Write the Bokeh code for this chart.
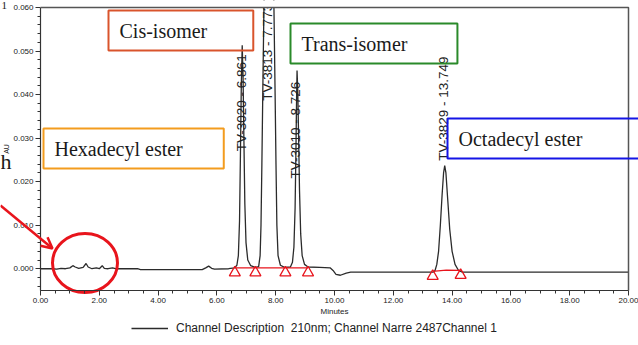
import math

from bokeh.core.properties import value
from bokeh.embed import file_html
from bokeh.models import (Arrow, BoxAnnotation, Label, Legend, LegendItem,
                          NumeralTickFormatter, OpenHead, SingleIntervalTicker)
from bokeh.plotting import figure
from bokeh.resources import INLINE

# Chromatogram trace: retention time (minutes) and absorbance (AU)
time_min = [
    0.00, 0.40, 0.55, 0.70, 0.85, 1.00, 1.10, 1.18, 1.30, 1.45, 1.55, 1.62,
    1.75, 1.90, 2.00, 2.10, 2.17, 2.30, 2.45, 2.55, 3.30, 3.40, 5.50, 5.62,
    5.72, 5.82, 5.92, 6.40, 6.60, 6.68, 6.73, 6.77, 6.80, 6.83, 6.861, 6.89,
    6.92, 6.95, 6.99, 7.05, 7.15, 7.30, 7.42, 7.47, 7.50, 7.53, 7.56, 7.60,
    7.65, 7.773, 7.90, 7.94, 7.98, 8.01, 8.04, 8.08, 8.16, 8.30, 8.50, 8.57,
    8.62, 8.66, 8.69, 8.71, 8.726, 8.75, 8.78, 8.81, 8.85, 8.90, 8.98, 9.10,
    9.50, 9.85, 9.95, 10.05, 10.20, 10.40, 10.55, 13.35, 13.42, 13.48, 13.54,
    13.60, 13.66, 13.71, 13.749, 13.79, 13.85, 13.92, 14.00, 14.10, 14.22,
    14.35, 20.00,
]
absorbance = [
    0.0000, 0.0000, -0.0001, 0.0001, 0.0000, 0.0002, 0.0007, 0.0004, 0.0001,
    0.0003, 0.0012, 0.0004, 0.0000, 0.0002, 0.0000, 0.0007, 0.0001, 0.0000,
    0.0002, 0.0000, 0.0000, -0.0002, -0.0002, 0.0002, 0.0006, 0.0001,
    -0.0001, 0.0000, 0.0002, 0.0008, 0.0030, 0.0110, 0.0260, 0.0420, 0.0513,
    0.0440, 0.0290, 0.0150, 0.0060, 0.0020, 0.0007, 0.0003, 0.0005, 0.0030,
    0.0100, 0.0240, 0.0400, 0.0600, 0.0800, 0.0950, 0.0800, 0.0600, 0.0400,
    0.0240, 0.0100, 0.0030, 0.0008, 0.0003, 0.0004, 0.0015, 0.0050, 0.0140,
    0.0280, 0.0390, 0.0455, 0.0410, 0.0300, 0.0180, 0.0080, 0.0030, 0.0010,
    0.0004, 0.0003, 0.0002, -0.0004, -0.0013, -0.0015, -0.0010, -0.0008,
    -0.0008, -0.0004, 0.0010, 0.0040, 0.0100, 0.0170, 0.0220, 0.0237, 0.0220,
    0.0160, 0.0090, 0.0040, 0.0010, -0.0004, -0.0008, -0.0008,
]

# Integrated peaks
peak_ids = ["TV-3020", "TV-3813", "TV-3010", "TV-3829"]
peak_times = [6.861, 7.773, 8.726, 13.749]

# Integration events (peak start / end) and the drawn baselines
event_times = [6.61, 7.31, 8.33, 9.10, 13.34, 14.29]
event_levels = [0.0002, 0.0002, 0.0002, 0.0002, -0.0006, -0.0004]
baseline_a_t = [6.61, 7.31, 8.33, 9.10]
baseline_a_y = [0.0002, 0.0002, 0.0002, 0.0002]
baseline_b_t = [13.34, 13.80, 14.29]
baseline_b_y = [-0.0006, -0.0003, -0.0004]

# Axis extents and ticks
T_MIN, T_MAX = 0.0, 20.0
A_MIN, A_MAX = -0.005, 0.060
x_major = 2.0
y_major = 0.010

# Canvas and the pixel box the axes enclose
W, H = 638, 345
LEFT, RIGHT, TOP, BOTTOM = 40, 10, 7, 55
PX_X = (W - LEFT - RIGHT) / (T_MAX - T_MIN)
PX_Y = (H - TOP - BOTTOM) / (A_MAX - A_MIN)

# The frame fills the canvas; axes are pinned at the data limits so that
# callouts, arrow and legend can use the margins too.
x_range = (T_MIN - LEFT / PX_X, T_MAX + RIGHT / PX_X)
y_range = (A_MIN - BOTTOM / PX_Y, A_MAX + TOP / PX_Y)


def at(px, py):
    """Canvas pixel position -> data coordinates."""
    return (x_range[0] + px / PX_X, y_range[1] - py / PX_Y)


p = figure(width=W, height=H, x_range=x_range, y_range=y_range,
           output_backend="svg", toolbar_location=None,
           min_border_left=0, min_border_right=0,
           min_border_top=0, min_border_bottom=0)
p.background_fill_color = "white"
p.border_fill_color = "white"
p.outline_line_color = None
p.grid.visible = False

axis_col = "#333333"
p.xaxis.ticker = SingleIntervalTicker(interval=x_major, num_minor_ticks=4)
p.yaxis.ticker = SingleIntervalTicker(interval=y_major, num_minor_ticks=5)
p.xaxis.formatter = NumeralTickFormatter(format="0.00")
p.yaxis.formatter = NumeralTickFormatter(format="0.000")
p.xaxis.fixed_location = A_MIN
p.yaxis.fixed_location = T_MIN
p.xaxis.bounds = (T_MIN, T_MAX)
p.yaxis.bounds = (A_MIN, A_MAX)
for ax in (p.xaxis, p.yaxis):
    ax.axis_line_color = axis_col
    ax.axis_line_width = 1.2
    ax.major_tick_line_color = axis_col
    ax.minor_tick_line_color = axis_col
    ax.major_tick_out = 5
    ax.major_tick_in = 0
    ax.minor_tick_out = 3
    ax.minor_tick_in = 0
    ax.major_label_text_font = "Liberation Sans"
    ax.major_label_text_font_size = "8px"
    ax.major_label_text_color = "#222222"
    ax.major_label_standoff = 2
    ax.axis_label_text_font = "Liberation Sans"
    ax.axis_label_text_font_style = "normal"
    ax.axis_label_text_font_size = "8px"
    ax.axis_label_text_color = "#222222"
    ax.axis_label_standoff = 1
p.yaxis.axis_label_text_font_size = "7px"
p.yaxis.axis_label_standoff = 0
p.xaxis.axis_label = "Minutes"
p.yaxis.axis_label = "AU"

# Detector trace
trace = p.line(time_min, absorbance, line_color="#2b2b2b", line_width=1.3)

# Everything above full scale is cut off by the chart's top border
p.add_layout(BoxAnnotation(bottom=A_MAX, left=T_MIN, right=T_MAX,
                           fill_color="white", fill_alpha=1.0,
                           line_alpha=0, level="annotation"))
p.line([T_MIN, T_MAX, T_MAX], [A_MAX, A_MAX, A_MIN], line_color="#555555",
       line_width=1.5, level="overlay")

# Integration baselines and start/end markers
red = "#e8141c"
p.line(baseline_a_t, baseline_a_y, line_color=red, line_width=1.2)
p.line(baseline_b_t, baseline_b_y, line_color=red, line_width=1.2)
tri_drop = 0.0011
p.scatter(event_times, [v - tri_drop for v in event_levels],
          marker="triangle", size=11, fill_color="white", fill_alpha=0.0,
          line_color=red, line_width=1.3)

# Peak annotations, written vertically along each peak
label_start = [0.0270, 0.0386, 0.0207, 0.0248]
p.text([t - 0.04 for t in peak_times], label_start,
       text=[f"{pid} - {t}" for pid, t in zip(peak_ids, peak_times)],
       angle=math.pi / 2, text_font=value("Liberation Sans"),
       text_font_size="13.5px", text_align="left", text_baseline="middle",
       text_color="#222222")

# Ring around the early baseline noise and the arrow pointing at it
cx, cy = at(84.5, 262.5)
p.ellipse(x=[cx], y=[cy], width=65 / PX_X, height=59 / PX_Y,
          fill_alpha=0, line_color=red, line_width=3)
xs, ys = at(0, 205)
xe, ye = at(52, 248)
p.add_layout(Arrow(end=OpenHead(line_color=red, line_width=2.5, size=11),
                   x_start=xs, y_start=ys, x_end=xe, y_end=ye,
                   line_color=red, line_width=2.5, level="overlay"))


def callout(text, px, py, color, pad_right):
    """Boxed caption whose box has its top-left corner at canvas pixel (px, py)."""
    x, y = at(px, py)
    p.add_layout(Label(x=x, y=y, text=text, text_font="Liberation Serif",
                       text_font_size="20px", text_color="#1a1a1a",
                       text_align="left", text_baseline="top",
                       border_line_color=color, border_line_width=2,
                       background_fill_color=None, level="overlay",
                       padding=dict(left=11, right=pad_right, top=9, bottom=9)))


callout("Cis-isomer", 108, 10, "#d9542c", 46)
callout("Trans-isomer", 290, 23, "#2a8a2a", 50)
callout("Hexadecyl ester", 43, 128, "#f39c1e", 41)
callout("Octadecyl ester", 447, 118, "#1515e6", 60)

# Stray glyphs at the left margin
for txt, px, py, size in (("h", 0, 148, "22px"), ("1", 1, 1, "11px")):
    x, y = at(px, py)
    p.add_layout(Label(x=x, y=y, text=txt, text_font="Liberation Serif",
                       text_font_size=size, text_color="#1a1a1a",
                       text_align="left", text_baseline="top", level="overlay"))

# Channel legend under the axis title
legend = Legend(items=[LegendItem(label="Channel Description  210nm; Channel Narre 2487Channel 1",
                                  renderers=[trace])],
                location=(131, 9), orientation="horizontal",
                label_text_font="Liberation Sans", label_text_font_size="12px",
                label_text_color="#222222", glyph_width=37, glyph_height=16,
                label_standoff=8, padding=0, margin=0, level="overlay",
                border_line_alpha=0, background_fill_alpha=0)
p.add_layout(legend, "center")

open("out.html", "w").write(file_html(p, INLINE))
